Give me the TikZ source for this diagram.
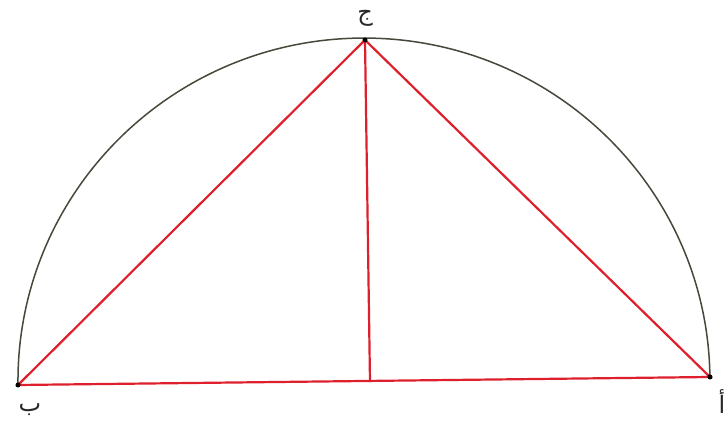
\documentclass[tikz,border=0pt]{standalone}
\usepackage{fontspec}
\newfontfamily\arabicfont[Script=Arabic]{DejaVu Sans}
\TeXXeTstate=1
\begin{document}
\begin{tikzpicture}[x=1pt,y=1pt,
  redline/.style={draw={rgb,255:red,222;green,32;blue,44}, line width=2.2pt},
  arcline/.style={draw={rgb,255:red,70;green,72;blue,58}, line width=1.5pt},
  vdot/.style={circle, fill=black, inner sep=0pt, minimum size=5pt},
  lab/.style={font=\arabicfont\fontsize{24}{28}\selectfont, text={rgb,255:red,40;green,40;blue,40}}]
\useasboundingbox (0,0) rectangle (726,428);
\coordinate (B) at (18,43);
\coordinate (A) at (710,51);
\coordinate (C) at (365,388);
\coordinate (H) at (370,46);
\draw[arcline] (B) arc[start angle=180.66, end angle=0.66, x radius=346, y radius=343];
\draw[redline] (B) -- (A) -- (C) -- cycle;
\draw[redline] (C) -- (H);
\node[vdot] (dC) at (C) {};
\node[vdot] (dB) at (B) {};
\node[vdot] (dA) at (A) {};
\node[lab] (lC) at (365,410) {\beginR ج\endR};
\node[lab] (lB) at (30,18) {\beginR ب\endR};
\node[lab] (lA) at (722,26) {\beginR أ\endR};
\end{tikzpicture}
\end{document}
